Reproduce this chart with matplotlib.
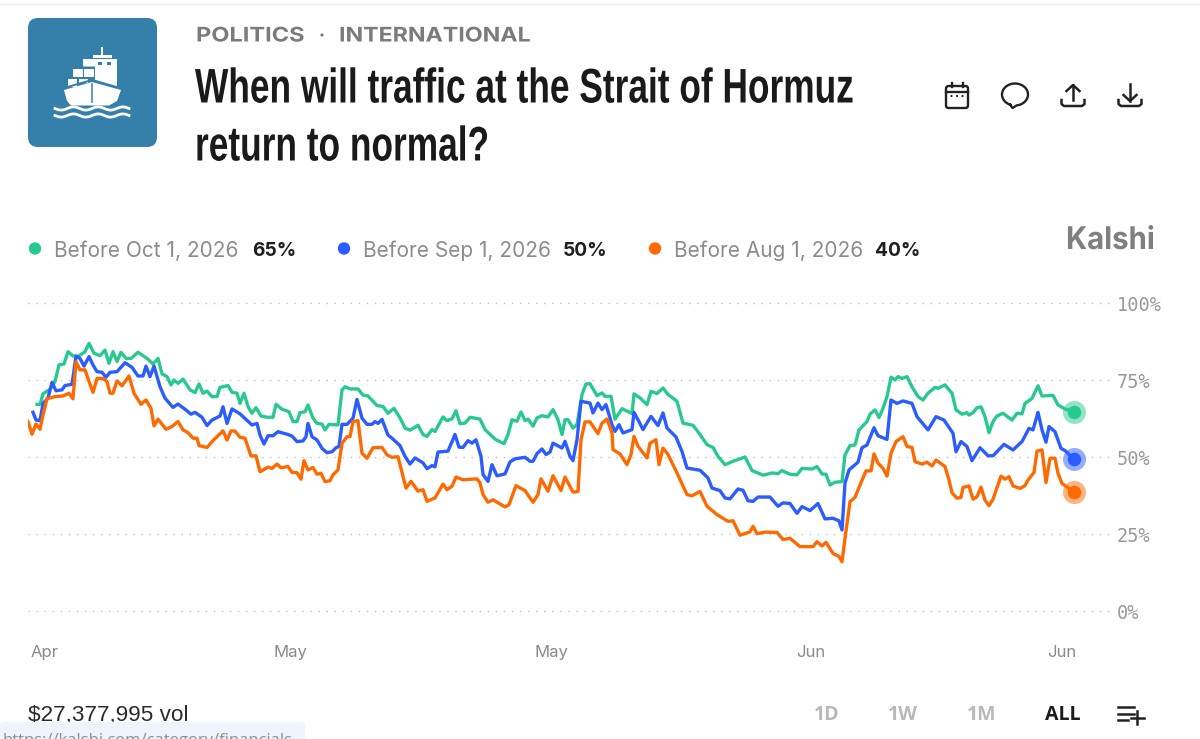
"""Strait of Hormuz market card: three probability lines plus the page header."""
import numpy as np
import matplotlib
matplotlib.use("Agg")
import matplotlib.pyplot as plt
from matplotlib.patches import FancyBboxPatch, Polygon, Rectangle, Circle
from matplotlib.patheffects import AbstractPathEffect
from matplotlib.transforms import Affine2D

# x is a sample index along the time axis, y is the probability in percent
green_x = [9,12,15,22,27,31,36,40,45,50,57,61,66,72,77,81,85,89,93,98,103,110,119,125,130,134,139,143,146,150,155,162,167,171,175,179,184,189,192,200,204,209,212,216,220,224,228,233,239,245,248,254,261,265,269,272,277,280,285,289,294,297,301,310,314,317,322,330,335,340,349,355,360,366,372,
           377,382,390,395,399,404,407,415,419,424,428,432,437,442,452,457,467,476,480,484,489,493,497,500,505,509,514,520,525,530,534,537,540,545,549,554,558,562,569,574,577,583,587,594,604,606,612,619,623,629,635,640,649,655,665,672,679,685,690,697,705,717,724,735,744,750,754,
           762,769,774,784,789,794,798,802,807,814,817,822,827,831,839,842,847,851,855,859,863,867,870,874,879,884,890,895,900,907,910,917,924,928,934,939,941,945,949,953,957,961,965,969,975,984,989,994,997,1004,1010,1014,1025,1030,1037,1046]
green_y = [67.2,67.2,70.6,72.1,74.6,80.0,80.3,84.3,82.9,82.7,84.3,87.0,83.8,83.0,84.8,80.5,84.3,81.1,84.1,82.1,82.1,84.1,82.1,80.3,82.1,77.1,76.2,73.5,75.1,74.0,75.4,71.9,71.0,73.8,70.8,71.5,69.7,69.7,72.7,73.3,71.1,70.8,67.5,70.8,66.5,64.3,66.1,63.4,63.0,63.0,67.2,65.6,64.8,61.6,61.6,64.5,64.8,67.0,62.7,61.0,60.8,58.9,60.7,60.5,71.9,72.9,72.2,72.2,70.2,69.9,66.8,66.5,64.3,65.9,62.8,
           59.5,58.8,60.4,57.4,56.8,59.0,58.4,63.1,61.9,62.5,65.1,60.9,61.1,63.0,62.4,59.0,55.9,54.4,57.4,62.2,61.7,64.7,61.9,62.4,60.1,62.8,63.5,63.1,65.5,62.2,57.4,62.2,62.2,59.5,60.6,70.4,73.8,73.9,70.0,70.9,69.8,69.8,62.4,65.8,64.2,70.6,69.3,67.1,71.4,70.7,72.5,70.4,68.2,61.1,60.4,57.4,54.1,53.2,50.3,47.6,48.7,50.1,45.7,44.2,44.9,44.7,45.7,
           44.5,44.3,46.4,46.2,47.0,44.6,44.5,41.0,41.9,42.1,50.8,53.8,54.0,58.9,61.6,64.0,65.4,62.9,65.9,69.7,76.0,75.1,76.2,75.6,76.2,72.9,69.7,68.6,70.8,72.7,72.4,73.5,70.8,65.4,64.0,64.5,63.7,64.5,66.1,66.4,63.2,58.0,61.6,63.4,64.3,62.1,64.3,64.1,67.5,69.1,73.2,69.9,70.1,67.0,65.7,64.8]

blue_x = [5,8,12,15,20,24,28,34,37,44,48,52,56,61,65,69,74,78,82,89,97,104,110,115,118,122,126,132,137,145,150,157,163,167,174,179,184,192,195,199,204,212,224,229,232,236,240,245,250,259,264,269,275,278,280,284,289,294,299,304,308,311,314,319,325,329,334,339,344,347,350,354,360,364,372,
          377,382,387,395,399,404,407,410,420,427,431,435,440,444,448,453,455,460,464,469,477,482,487,497,502,505,509,514,518,522,525,534,537,542,545,549,553,562,565,570,574,578,584,587,591,595,604,606,610,615,623,630,635,639,648,654,659,672,680,684,692,697,702,710,715,720,725,730,742,750,755,
          762,769,774,782,790,797,805,811,814,817,821,830,834,839,846,850,859,863,869,875,884,889,900,908,916,925,928,933,939,944,952,960,965,976,985,994,1001,1005,1010,1014,1018,1021,1027,1033,1037,1046]
blue_y = [64.6,62.1,61.9,67.5,69.2,74.3,71.6,71.9,73.3,73.7,82.9,82.1,79.6,82.7,80.0,77.8,77.6,76.0,77.6,77.8,80.7,79.2,76.4,76.4,79.6,76.2,79.6,72.9,69.2,66.2,67.3,65.6,64.0,64.6,63.0,60.3,62.1,63.4,66.4,61.0,65.7,64.1,60.5,61.0,57.2,54.3,57.0,57.0,58.3,57.5,56.9,55.1,55.3,56.7,61.0,56.7,55.6,52.9,51.5,51.8,53.1,53.5,60.7,60.7,62.7,68.8,62.7,60.7,60.7,61.6,61.0,62.3,57.2,56.2,53.8,
          50.3,47.8,49.8,48.2,46.3,47.3,46.9,51.7,52.0,57.4,53.3,53.2,55.4,54.6,55.7,50.3,44.4,42.2,47.6,44.0,44.6,48.5,49.5,50.0,48.7,48.7,51.2,52.7,50.9,51.7,54.6,53.0,55.2,50.3,48.9,55.7,68.2,67.6,64.4,67.6,65.5,67.1,60.6,58.4,60.6,57.9,59.0,64.6,62.2,59.0,63.3,60.3,64.4,59.5,56.6,51.9,46.5,45.8,43.3,40.0,39.2,36.8,36.5,39.7,39.3,35.9,35.7,37.1,37.1,34.1,35.2,
          35.0,31.8,34.0,32.7,35.0,30.0,30.2,29.4,26.4,41.6,45.9,48.4,53.1,54.0,59.6,57.0,55.8,68.6,67.5,68.3,67.5,63.2,58.9,63.2,62.1,57.8,51.8,55.1,53.5,48.9,53.1,50.5,50.5,54.2,52.4,55.1,59.4,58.9,64.6,58.9,54.9,60.0,58.3,52.9,52.2,49.3]

orange_x = [0,4,8,12,15,19,27,35,41,45,48,52,57,61,65,69,75,79,82,85,89,94,101,106,113,118,123,126,130,138,144,150,155,160,165,169,171,179,185,195,199,203,207,212,217,223,228,232,240,244,249,253,260,264,269,273,276,280,285,289,293,297,302,305,310,314,319,322,325,330,334,339,345,354,359,364,370,
            378,383,390,395,399,407,415,419,424,428,435,449,452,455,460,465,477,481,488,497,505,510,513,520,525,533,537,545,550,553,557,562,570,574,579,584,585,592,599,603,606,610,619,622,628,631,635,640,649,659,664,672,679,689,700,705,712,722,725,729,737,749,755,
            762,772,785,789,794,798,805,811,814,817,822,827,832,838,843,846,850,855,859,863,868,875,879,884,887,894,899,904,908,917,921,924,929,933,935,941,945,949,953,957,961,965,973,977,981,985,992,997,1000,1006,1009,1014,1018,1022,1027,1030,1034,1046]
orange_y = [61.6,57.5,60.8,59.1,63.7,69.0,69.7,69.9,70.8,69.0,81.0,78.4,78.4,74.6,71.1,75.6,75.6,74.6,70.8,70.8,74.8,73.2,76.4,70.8,67.2,68.6,65.9,60.2,62.4,59.1,60.0,61.6,58.9,58.0,56.2,56.2,53.8,53.2,55.4,58.6,55.6,58.6,58.5,56.5,56.2,50.4,50.5,45.3,46.8,46.4,47.8,46.6,47.0,45.1,45.0,42.9,48.9,45.9,46.7,44.5,44.8,42.1,42.4,44.3,45.9,54.5,56.7,56.7,61.6,61.9,51.3,49.7,53.1,53.2,50.8,50.0,50.2,
            40.0,42.2,39.0,39.5,35.7,36.8,41.3,39.5,40.6,43.6,42.7,43.0,41.7,37.9,35.4,36.2,33.9,34.6,40.8,39.2,35.4,37.9,43.0,39.0,44.0,39.2,43.6,38.7,38.9,55.7,61.5,61.5,57.7,61.1,62.4,57.9,52.5,51.1,47.6,50.9,56.8,53.6,49.8,54.6,55.7,47.6,53.0,50.9,44.9,37.9,37.5,38.9,34.1,31.4,29.2,29.4,24.7,25.8,27.6,25.2,25.7,25.6,23.3,
            23.7,21.0,21.0,22.6,21.2,22.4,18.8,17.8,16.1,23.7,35.6,37.0,41.0,45.6,45.6,51.1,48.1,46.4,43.9,51.3,55.1,56.7,53.5,53.2,48.6,47.8,48.4,47.2,49.1,47.0,42.6,38.5,36.7,37.0,40.2,40.7,36.4,37.2,40.3,36.1,34.3,36.4,43.9,42.9,43.7,40.7,39.9,40.8,42.6,45.1,52.0,52.4,41.8,49.7,49.7,44.8,41.5,38.8]

y_ticks = [0, 25, 50, 75, 100]
y_tick_labels = ["0%", "25%", "50%", "75%", "100%"]
x_ticks = [17, 262, 523, 783, 1034]
x_tick_labels = ["Apr", "May", "May", "Jun", "Jun"]

legend_names = ["Before Oct 1, 2026", "Before Sep 1, 2026", "Before Aug 1, 2026"]
legend_values = ["65%", "50%", "40%"]

GREEN, BLUE, ORANGE = "#28c990", "#2b5cff", "#ff6a00"
SANS = ["Inter", "DejaVu Sans"]
W, H = 1200, 739


class StretchX(AbstractPathEffect):
    """Scale a text's glyphs sideways about a pixel column, no condensed font is installed."""

    def __init__(self, x0, sx):
        super().__init__()
        self.x0, self.sx = x0, sx

    def draw_path(self, renderer, gc, tpath, affine, rgbFace=None):
        squeeze = Affine2D().translate(-self.x0, 0).scale(self.sx, 1).translate(self.x0, 0)
        renderer.draw_path(gc, tpath, affine + squeeze, rgbFace)


fig = plt.figure(figsize=(W / 100, H / 100), dpi=100, facecolor="white")

# ── chart ─────────────────────────────────────────────────────────────────
ax = fig.add_axes([28 / W, 1 - 611.3 / H, 1082 / W, 308 / H])
ax.set_xlim(0, 1082)
ax.set_ylim(0, 100)
ax.patch.set_alpha(0)
for side in ax.spines.values():
    side.set_visible(False)

for t in y_ticks:
    ax.axhline(t, color="#c4c4c4", lw=1.0, ls=(0, (1, 4.8)), zorder=1, clip_on=False)

for xs, ys, col in [(green_x, green_y, GREEN), (blue_x, blue_y, BLUE), (orange_x, orange_y, ORANGE)]:
    ax.plot(xs, ys, color=col, lw=2.4, solid_joinstyle="round", zorder=3)
    ax.scatter(xs[-1], ys[-1], s=275, color=col, alpha=0.5, linewidths=0, zorder=4)
    ax.scatter(xs[-1], ys[-1], s=95, color=col, linewidths=0, zorder=5)

ax.set_yticks(y_ticks, y_tick_labels, family="DejaVu Sans Mono", fontsize=13.4, color="#999999")
ax.yaxis.tick_right()
ax.set_xticks(x_ticks, x_tick_labels, family=SANS, fontsize=12, color="#8a8a8a")
ax.tick_params(axis="both", length=0)
ax.tick_params(axis="y", pad=5)
ax.tick_params(axis="x", pad=24)

# ── page furniture, drawn in pixel coordinates ───────────────────────────
ov = fig.add_axes([0, 0, 1, 1], zorder=10)
ov.set_xlim(0, W)
ov.set_ylim(H, 0)
ov.axis("off")
ov.patch.set_alpha(0)

ov.plot([0, W], [3.5, 3.5], color="#ececec", lw=1)

# ship icon
ICON = "#357fab"
ov.add_patch(FancyBboxPatch((38, 28), 109, 109, boxstyle="round,pad=10,rounding_size=10", fc=ICON, ec="none"))
ov.add_patch(Polygon([(83, 59), (117, 59), (117, 87), (95, 80), (95, 66.5), (83, 66.5)], fc="white", ec="none"))
ov.add_patch(Rectangle((93, 55), 19, 3, fc="white", ec="none"))
ov.add_patch(Rectangle((101, 47), 2, 9, fc="white", ec="none"))
for x0, y0, cw, ch in [(73, 68.5, 10, 8.5), (84, 68.5, 9.5, 8.5), (68, 78.5, 9, 8), (79, 78.5, 9, 4.5)]:
    ov.add_patch(Rectangle((x0, y0), cw, ch, fc="white", ec="none"))
for x0 in [97.5, 106.5]:
    ov.add_patch(Rectangle((x0, 62), 4, 3, fc=ICON, ec="none"))
ov.plot([62, 92, 122], [88.5, 80, 88.5], color=ICON, lw=1.4)
ov.add_patch(Polygon([(64, 90), (92, 82), (121, 90), (117, 101), (109, 105.5), (71, 105.5), (67, 101)],
                     fc="white", ec="none"))
ov.plot([92, 92], [84, 102], color=ICON, lw=1.1)
wave_x = np.linspace(55, 129, 80)
for y0 in [108.5, 115.5]:
    ov.plot(wave_x, y0 + 1.6 * np.sin((wave_x - 55) / 74 * 2 * np.pi * 3), color="white", lw=2.0)

# header
for x0, word, sx in [(196, "POLITICS", 1.17), (339, "INTERNATIONAL", 1.15)]:
    ov.text(x0, 36.5, word, family=SANS, fontsize=14.5, fontweight="bold", color="#7b7b7b", va="center",
            path_effects=[StretchX(x0, sx)])
ov.add_patch(Circle((322, 35), 1.6, fc="#7b7b7b", ec="none"))
TITLE = "Liberation Sans"
for y0, line in [(90, "When will traffic at the Strait of Hormuz"), (148, "return to normal?")]:
    ov.text(195, y0, line, family=TITLE, fontsize=35, fontweight="bold", color="#1a1a1a", va="center",
            path_effects=[StretchX(195, 0.726)])

# action icons
DARK = "#222222"
ov.add_patch(FancyBboxPatch((946, 86), 22, 22, boxstyle="round,pad=0,rounding_size=2.5", fc="none", ec=DARK, lw=1.7))
ov.plot([946, 968], [92, 92], color=DARK, lw=1.7)
for x0 in [951.5, 962.5]:
    ov.plot([x0, x0], [83, 87], color=DARK, lw=1.7)
for x0 in [951.5, 957, 962.5]:
    ov.add_patch(Circle((x0, 96), 1.1, fc=DARK, ec="none"))
t = np.linspace(0.62 * np.pi, 2.46 * np.pi, 60)
bub_x = 1015 + 13 * np.cos(t)
bub_y = 94.5 + 11 * np.sin(t)
ov.plot(np.r_[bub_x, 1012.5, bub_x[0]], np.r_[bub_y, 108, bub_y[0]], color=DARK, lw=1.7, solid_joinstyle="round")
for cx, tip, tail, wing in [(1073, 85, 100, 91), (1130, 101, 84, 95)]:
    ov.plot([cx, cx], [tail, tip], color=DARK, lw=1.8)
    ov.plot([cx - 6.5, cx, cx + 6.5], [wing, tip, wing], color=DARK, lw=1.8)
    ov.plot([cx - 11.5, cx - 11.5, cx - 9, cx + 9, cx + 11.5, cx + 11.5],
            [100, 104, 106, 106, 104, 100], color=DARK, lw=1.8, solid_joinstyle="round")

# legend row
for dot_x, name, val, val_x, col in zip([35, 344, 655], legend_names, legend_values,
                                        [252, 563, 875], [GREEN, BLUE, ORANGE]):
    ov.add_patch(Circle((dot_x, 248.5), 6.2, fc=col, ec="none"))
    ov.text(dot_x + 19, 250.5, name, family=SANS, fontsize=15, color="#8c8c8c", va="center")
    ov.text(val_x, 250.5, val, family=SANS, fontsize=13.8, fontweight="bold", color="#1f1f1f", va="center")
ov.text(1066, 241, "Kalshi", family=SANS, fontsize=22.5, fontweight="bold", color="#7f7f7f", va="center",
        path_effects=[StretchX(1066, 0.94)])

# footer
ov.text(28, 716, "$27,377,995 vol", family="Liberation Sans", fontsize=16.2, color="#2a2a2a", va="center")
ov.add_patch(FancyBboxPatch((0, 722), 305, 30, boxstyle="round,pad=0,rounding_size=4", fc="#eef3fc", ec="none", zorder=3))
ov.text(3, 741, "https://kalshi.com/category/financials", family=["Open Sans", "DejaVu Sans"], fontsize=12,
        color="#8f8f8f", va="center", zorder=4)
for x0, lab, col in [(827, "1D", "#b9b9b9"), (903, "1W", "#b9b9b9"), (982, "1M", "#b9b9b9"), (1063, "ALL", "#1c1c1c")]:
    ov.text(x0, 715, lab, family=["Open Sans", "DejaVu Sans"], fontsize=14, fontweight="bold", color=col,
            va="center", ha="center")
for y0, x1 in [(707, 1134), (713.5, 1134), (720, 1128)]:
    ov.plot([1118, x1], [y0, y0], color=DARK, lw=1.8)
ov.plot([1137, 1137], [711, 724], color=DARK, lw=1.8)
ov.plot([1130.5, 1143.5], [717.5, 717.5], color=DARK, lw=1.8)

fig.savefig("out.png", dpi=100, facecolor="white")
